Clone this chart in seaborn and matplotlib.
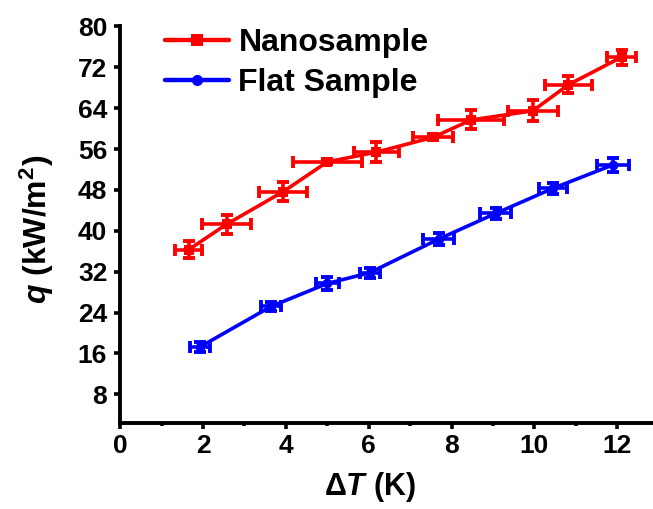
import matplotlib
matplotlib.use("Agg")
import matplotlib.pyplot as plt
import matplotlib.ticker as tkr
import seaborn as sns
import pandas as pd

# values
nano_dt = [1.65, 2.57, 3.94, 5.0, 6.18, 7.55, 8.47, 9.96, 10.82, 12.10]
nano_q = [36.3, 41.3, 47.7, 53.5, 55.4, 58.3, 61.7, 63.5, 68.6, 74.0]
nano_dt_err = [0.32, 0.6, 0.58, 0.84, 0.54, 0.49, 0.79, 0.6, 0.56, 0.35]
nano_q_err = [1.7, 1.86, 1.86, 0.5, 1.9, 0.6, 1.86, 2.05, 1.7, 1.47]

flat_dt = [1.93, 3.64, 5.0, 6.02, 7.69, 9.06, 10.44, 11.89]
flat_q = [17.3, 25.2, 29.7, 31.8, 38.4, 43.4, 48.3, 52.9]
flat_dt_err = [0.25, 0.25, 0.27, 0.24, 0.37, 0.38, 0.34, 0.38]
flat_q_err = [1.0, 0.8, 1.2, 1.0, 1.2, 1.0, 1.0, 1.3]

x_ticks = [0, 2, 4, 6, 8, 10, 12]
y_ticks = [8, 16, 24, 32, 40, 48, 56, 64, 72, 80]

sns.set_theme(style="ticks")
plt.rcParams["font.family"] = ["Liberation Sans", "DejaVu Sans"]
plt.rcParams["font.weight"] = "bold"
plt.rcParams["text.color"] = "black"
plt.rcParams["axes.labelcolor"] = "black"
plt.rcParams["xtick.color"] = "black"
plt.rcParams["ytick.color"] = "black"
plt.rcParams["mathtext.fontset"] = "custom"
plt.rcParams["mathtext.it"] = "Liberation Sans:bold:italic"
plt.rcParams["mathtext.rm"] = "Liberation Sans:bold"
plt.rcParams["mathtext.bf"] = "Liberation Sans:bold"

df = pd.concat([
    pd.DataFrame({"dT": nano_dt, "q": nano_q, "Sample": "Nanosample"}),
    pd.DataFrame({"dT": flat_dt, "q": flat_q, "Sample": "Flat Sample"}),
])

fig = plt.figure(figsize=(6.53, 5.09), dpi=100)
ax = fig.add_axes([0.184, 0.169, 0.816, 0.779])

palette = {"Nanosample": "#ff0000", "Flat Sample": "#0000ff"}
sns.lineplot(
    data=df, x="dT", y="q", hue="Sample", style="Sample",
    markers={"Nanosample": "s", "Flat Sample": "o"}, dashes=False,
    palette=palette, linewidth=2.6, markersize=7, markeredgewidth=0,
    sort=False, ax=ax,
)

for dt, q, xe, ye, c in [
    (nano_dt, nano_q, nano_dt_err, nano_q_err, "#ff0000"),
    (flat_dt, flat_q, flat_dt_err, flat_q_err, "#0000ff"),
]:
    ax.errorbar(dt, q, xerr=xe, yerr=ye, fmt="none", ecolor=c,
                elinewidth=2.6, capsize=4, capthick=2.8, zorder=3)

ax.set_xlim(0, 12.86)
ax.set_ylim(2.4, 80)
ax.set_xticks(x_ticks)
ax.set_yticks(y_ticks)
ax.xaxis.set_minor_locator(tkr.MultipleLocator(1))
ax.tick_params(axis="both", which="major", direction="out", length=4.3,
               width=2.6, labelsize=19, color="black")
ax.tick_params(axis="y", which="major", pad=5)
ax.tick_params(axis="x", which="major", pad=3.5)
ax.tick_params(axis="x", which="minor", direction="out", length=2.5,
               width=2.6, color="black")
for lab in ax.get_xticklabels() + ax.get_yticklabels():
    lab.set_fontweight("bold")

for side in ["left", "bottom"]:
    ax.spines[side].set_linewidth(2.8)
    ax.spines[side].set_color("black")
sns.despine(ax=ax)

ax.set_xlabel("Δ$T$ (K)", fontsize=22, fontweight="bold")
ax.set_ylabel("$q$ (kW/m$^2$)", fontsize=23, fontweight="bold")
ax.xaxis.set_label_coords((370 - 120) / 533, -0.118)
ax.yaxis.set_label_coords(-0.12, (423 - 229) / 396.5)

leg = ax.legend(loc="upper left", bbox_to_anchor=(165 / 653, 1 - 28 / 509),
                bbox_transform=fig.transFigure, frameon=False,
                fontsize=23, handlelength=2.0, handletextpad=0.3,
                labelspacing=0.32, borderpad=0, borderaxespad=0)
for t in leg.get_texts():
    t.set_fontweight("bold")
for h in leg.legend_handles:
    h.set_linewidth(3.2)
    h.set_markersize(8)

fig.savefig("out.png", dpi=100)
